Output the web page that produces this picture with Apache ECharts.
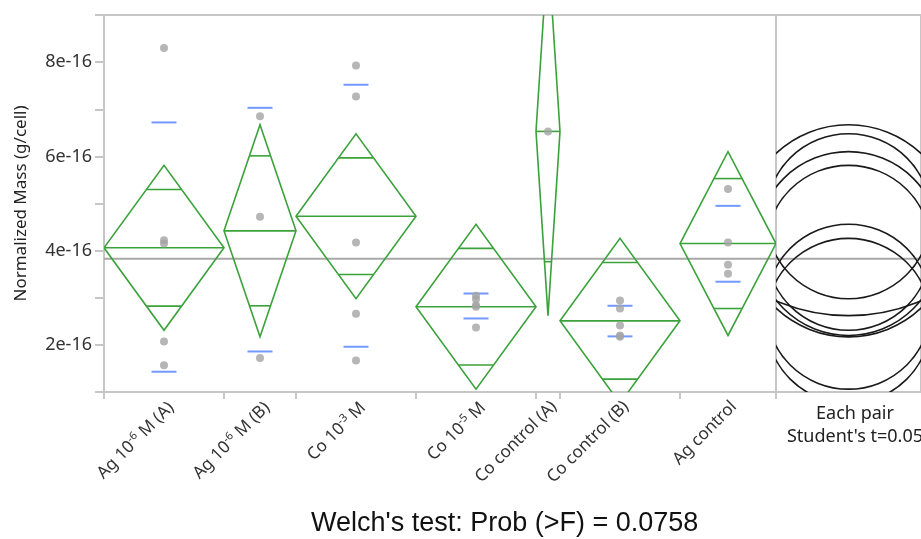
<!DOCTYPE html>
<html><head><meta charset="utf-8">
<script src="https://cdn.jsdelivr.net/npm/echarts@6/dist/echarts.min.js"></script>
<style>html,body{margin:0;padding:0;background:#fff}#c{width:921px;height:539px}</style>
</head><body><div id="c"></div>
<script>
// Values are in units of 1e-16 g/cell
const categories = ['Ag 10^-6 M (A)', 'Ag 10^-6 M (B)', 'Co 10^-3 M', 'Co 10^-5 M', 'Co control (A)', 'Co control (B)', 'Ag control'];
const pointsAgA = [8.3, 4.22, 4.15, 2.07, 1.57];
const pointsAgB = [6.85, 4.72, 1.72];
const pointsCo3 = [7.93, 7.27, 4.17, 2.66, 1.67];
const pointsCo5 = [3.04, 2.97, 2.84, 2.81, 2.37];
const pointsCoCtrlA = [6.53];
const pointsCoCtrlB = [2.94, 2.77, 2.41, 2.2, 2.17];
const pointsAgCtrl = [5.31, 4.17, 3.7, 3.51];
const groupMeans = [4.06, 4.42, 4.73, 2.81, 6.53, 2.51, 4.15];
const ciHalfWidths = [1.75, 2.25, 1.75, 1.75, 3.91, 1.75, 1.95];
const sdUpper = [6.72, 7.03, 7.52, 3.09, null, 2.83, 4.95];
const sdLower = [1.43, 1.86, 1.96, 2.56, null, 2.18, 3.34];
const grandMean = 3.83;
const yTickLabels = ['2e-16', '4e-16', '6e-16', '8e-16'];
const titleText = "Welch's test: Prob (>F) = 0.0758";
const circleCaption = ['Each pair', "Student's t=0.05"];

const groups = [pointsAgA, pointsAgB, pointsCo3, pointsCo5, pointsCoCtrlA, pointsCoCtrlB, pointsAgCtrl];
const counts = groups.map(g => g.length);
const bounds = [0];
counts.forEach(c => bounds.push(bounds[bounds.length - 1] + c));
const total = bounds[bounds.length - 1];
const centers = counts.map((c, i) => (bounds[i] + bounds[i + 1]) / 2);

const pointData = [];
groups.forEach((g, i) => g.forEach(v => pointData.push([centers[i], v])));
const sdData = [];
sdUpper.forEach((v, i) => { if (v != null) sdData.push([centers[i], v]); });
sdLower.forEach((v, i) => { if (v != null) sdData.push([centers[i], v]); });
const diamondData = groupMeans.map((m, i) => [bounds[i], bounds[i + 1], m, ciHalfWidths[i]]);
const circleData = groupMeans.map((m, i) => [0.5, m, ciHalfWidths[i]]);

const FONT = 'Noto Sans';
const GRAY = '#c6c6c6';
const GREEN = '#3ba23b';

function catLabel(v) {
  const i = centers.findIndex(c => Math.abs(c - v) < 1e-6);
  if (i < 0) return '';
  const s = categories[i];
  const m = s.match(/^(.*?)\^(-?\d+)(.*)$/);
  if (!m) return '{n|' + s + '}';
  return '{n|' + m[1] + '}{sup|' + m[2] + '}{n|' + m[3] + '}';
}

const chart = echarts.init(document.getElementById('c'), null, {renderer: 'canvas'});
chart.setOption({
  animation: false,
  title: {
    text: titleText, left: 306, top: 505,
    textStyle: {fontFamily: 'Liberation Sans', fontSize: 27, fontWeight: 'normal', color: '#111'}
  },
  grid: [
    {left: 104, top: 15, width: 672, height: 377, show: true, borderColor: GRAY, borderWidth: 2},
    {left: 776, top: 15, width: 158, height: 377, show: true, borderColor: GRAY, borderWidth: 2}
  ],
  xAxis: [
    {
      type: 'value', gridIndex: 0, min: 0, max: total,
      axisLine: {show: true, lineStyle: {color: GRAY, width: 2}},
      axisTick: {show: true, customValues: bounds, length: 7, lineStyle: {color: GRAY, width: 2}},
      axisLabel: {
        customValues: centers, rotate: 45, margin: 6, verticalAlign: 'top', formatter: catLabel,
        rich: {
          n: {fontFamily: FONT, fontSize: 17, color: '#333'},
          sup: {fontFamily: FONT, fontSize: 11, color: '#333', padding: [0, 0, 9, 0]}
        }
      },
      splitLine: {show: false}
    },
    {type: 'value', gridIndex: 1, min: 0, max: 1, show: false}
  ],
  yAxis: [
    {
      type: 'value', gridIndex: 0, min: 1, max: 9, interval: 1,
      axisLine: {show: true, lineStyle: {color: GRAY, width: 2}},
      axisTick: {show: true, length: 9, lineStyle: {color: GRAY, width: 2}},
      axisLabel: {
        fontFamily: FONT, fontSize: 18, color: '#333', margin: 12,
        formatter: v => { const i = [2, 4, 6, 8].indexOf(v); return i >= 0 ? yTickLabels[i] : ''; }
      },
      splitLine: {show: false},
      name: 'Normalized Mass (g/cell)', nameLocation: 'middle', nameGap: 74,
      nameTextStyle: {fontFamily: FONT, fontSize: 17, color: '#222'}
    },
    {type: 'value', gridIndex: 1, min: 1, max: 9, show: false}
  ],
  graphic: [
    {type: 'text', x: 855, y: 405, style: {text: circleCaption[0], fontFamily: FONT, fontSize: 18, fill: '#222', textAlign: 'center'}},
    {type: 'text', x: 855, y: 428, style: {text: circleCaption[1], fontFamily: FONT, fontSize: 18, fill: '#222', textAlign: 'center'}}
  ],
  series: [
    {
      type: 'line', xAxisIndex: 0, yAxisIndex: 0, data: [[0, grandMean], [total, grandMean]],
      symbol: 'none', lineStyle: {color: '#a8a8a8', width: 2}, z: 1, silent: true
    },
    {
      type: 'line', xAxisIndex: 1, yAxisIndex: 1, data: [[0, grandMean], [1, grandMean]],
      symbol: 'none', lineStyle: {color: '#a8a8a8', width: 2}, z: 1, silent: true
    },
    {
      type: 'custom', xAxisIndex: 0, yAxisIndex: 0, clip: true, z: 3,
      data: diamondData, encode: {x: [0, 1], y: 2},
      renderItem: function (params, api) {
        const x0 = api.value(0), x1 = api.value(1), m = api.value(2), h = api.value(3);
        const xm = (x0 + x1) / 2;
        const L = api.coord([x0, m]), R = api.coord([x1, m]);
        const T = api.coord([xm, m + h]), B = api.coord([xm, m - h]);
        const k = 1 / Math.SQRT2;
        const yu = api.coord([xm, m + h * k])[1], yl = api.coord([xm, m - h * k])[1];
        const hw = (R[0] - L[0]) / 2, cx = (R[0] + L[0]) / 2;
        const iw = hw * (1 - k);
        const st = {stroke: GREEN, lineWidth: 1.6, fill: null};
        return {
          type: 'group',
          children: [
            {type: 'polygon', shape: {points: [L, T, R, B]}, style: st},
            {type: 'line', shape: {x1: L[0], y1: L[1], x2: R[0], y2: R[1]}, style: st},
            {type: 'line', shape: {x1: cx - iw, y1: yu, x2: cx + iw, y2: yu}, style: st},
            {type: 'line', shape: {x1: cx - iw, y1: yl, x2: cx + iw, y2: yl}, style: st}
          ]
        };
      }
    },
    {
      type: 'scatter', xAxisIndex: 0, yAxisIndex: 0, data: sdData, symbol: 'rect',
      symbolSize: [25, 2], itemStyle: {color: '#4f7fff'}, z: 4, silent: true
    },
    {
      type: 'scatter', xAxisIndex: 0, yAxisIndex: 0, data: pointData, symbol: 'circle',
      symbolSize: 8, itemStyle: {color: '#a4a4a4'}, z: 5, silent: true
    },
    {
      type: 'custom', xAxisIndex: 1, yAxisIndex: 1, clip: true, z: 3,
      data: circleData, encode: {x: 0, y: 1},
      renderItem: function (params, api) {
        const c = api.coord([api.value(0), api.value(1)]);
        const r = api.size([0, api.value(2)])[1];
        return {type: 'circle', shape: {cx: c[0], cy: c[1], r: r}, style: {stroke: '#1a1a1a', lineWidth: 1.6, fill: null}};
      }
    }
  ]
});
</script></body></html>
